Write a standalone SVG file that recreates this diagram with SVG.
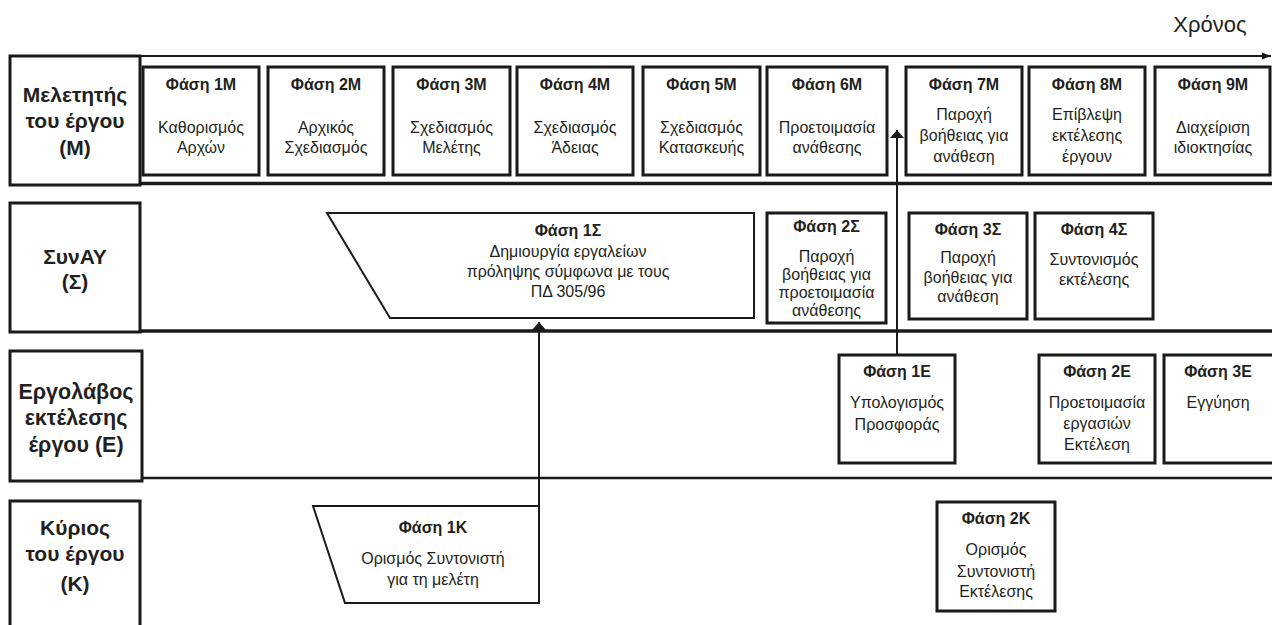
<svg xmlns="http://www.w3.org/2000/svg" width="1272" height="625" viewBox="0 0 1272 625">
<style>
.lab{fill:#fff;stroke:#1a1a1a;stroke-width:3}
.ph{fill:#fff;stroke:#1a1a1a;stroke-width:3}
.par{fill:#fff;stroke:#1a1a1a;stroke-width:2}
.rl{font-family:"Liberation Sans",Arial,sans-serif;font-weight:bold;font-size:21px;fill:#231f20;text-anchor:middle}
.rle{font-family:"Liberation Sans",Arial,sans-serif;font-weight:bold;font-size:21.5px;fill:#231f20;text-anchor:middle}
.h{font-family:"Liberation Sans",Arial,sans-serif;font-weight:bold;font-size:16px;fill:#231f20;text-anchor:middle}
.b{font-family:"Liberation Sans",Arial,sans-serif;font-size:16px;fill:#231f20;text-anchor:middle}
.t{font-family:"Liberation Sans",Arial,sans-serif;font-size:22px;fill:#231f20;text-anchor:middle}
.ln{stroke:#1a1a1a;fill:none}
</style>
<defs>
<marker id="ah" viewBox="0 0 8 16" refX="8" refY="8" markerWidth="8" markerHeight="16" markerUnits="userSpaceOnUse" orient="auto">
<path d="M0,1 L8,8 L0,15 Z" fill="#1a1a1a"/>
</marker>
<marker id="ah2" viewBox="0 0 10 10" refX="10" refY="5" markerWidth="9" markerHeight="9" markerUnits="userSpaceOnUse" orient="auto">
<path d="M0,1 L10,5 L0,9 Z" fill="#1a1a1a"/>
</marker>
</defs>

<g id="lanes">
<line class="ln" x1="140" y1="56" x2="1271" y2="56" stroke-width="2" marker-end="url(#ah2)"/>
<line class="ln" x1="140" y1="183.5" x2="1272" y2="183.5" stroke-width="3.5"/>
<line class="ln" x1="140" y1="331" x2="1272" y2="331" stroke-width="3.5"/>
<line class="ln" x1="142" y1="478" x2="1272" y2="478" stroke-width="2.5"/>
<text class="t" x="1210" y="32">Χρόνος</text>
</g>

<g id="role-M">
<rect class="lab" x="10" y="56" width="130" height="129"/>
<text class="rl" x="75" y="102">Μελετητής</text>
<text class="rl" x="75" y="128">του έργου</text>
<text class="rl" x="75" y="155">(M)</text>
</g>
<g id="role-S">
<rect class="lab" x="10" y="203" width="130" height="129"/>
<text class="rl" x="75" y="264">ΣυνAY</text>
<text class="rl" x="75" y="289">(Σ)</text>
</g>
<g id="role-E">
<rect class="lab" x="10" y="351" width="132" height="130" stroke-width="2.5"/>
<text class="rle" x="76" y="399">Εργολάβος</text>
<text class="rle" x="76" y="425">εκτέλεσης</text>
<text class="rle" x="76" y="452">έργου (Ε)</text>
</g>
<g id="role-K">
<rect class="lab" x="10" y="501" width="130" height="130"/>
<text class="rl" x="75" y="535">Κύριος</text>
<text class="rl" x="75" y="561">του έργου</text>
<text class="rl" x="75" y="591">(K)</text>
</g>

<g id="phase-1M"><rect class="ph" x="143" y="67" width="116" height="108"/>
<text class="h" x="201" y="90">Φάση 1M</text><text class="b" x="201" y="133">Καθορισμός</text><text class="b" x="201" y="153">Αρχών</text></g>
<g id="phase-2M"><rect class="ph" x="268" y="67" width="116" height="108"/>
<text class="h" x="326" y="90">Φάση 2M</text><text class="b" x="326" y="133">Αρχικός</text><text class="b" x="326" y="153">Σχεδιασμός</text></g>
<g id="phase-3M"><rect class="ph" x="393" y="67" width="117" height="108"/>
<text class="h" x="451.5" y="90">Φάση 3M</text><text class="b" x="451.5" y="133">Σχεδιασμός</text><text class="b" x="451.5" y="153">Μελέτης</text></g>
<g id="phase-4M"><rect class="ph" x="517" y="67" width="116" height="108"/>
<text class="h" x="575" y="90">Φάση 4M</text><text class="b" x="575" y="133">Σχεδιασμός</text><text class="b" x="575" y="153">Άδειας</text></g>
<g id="phase-5M"><rect class="ph" x="643" y="67" width="117" height="108"/>
<text class="h" x="701.5" y="90">Φάση 5M</text><text class="b" x="701.5" y="133">Σχεδιασμός</text><text class="b" x="701.5" y="153">Κατασκευής</text></g>
<g id="phase-6M"><rect class="ph" x="767" y="67" width="120" height="108"/>
<text class="h" x="827" y="90">Φάση 6M</text><text class="b" x="827" y="133">Προετοιμασία</text><text class="b" x="827" y="153">ανάθεσης</text></g>
<g id="phase-7M"><rect class="ph" x="906" y="67" width="116" height="108"/>
<text class="h" x="964" y="90">Φάση 7M</text><text class="b" x="964" y="120">Παροχή</text><text class="b" x="964" y="141">βοήθειας για</text><text class="b" x="964" y="162">ανάθεση</text></g>
<g id="phase-8M"><rect class="ph" x="1029" y="67" width="116" height="108"/>
<text class="h" x="1087" y="90">Φάση 8M</text><text class="b" x="1087" y="120">Επίβλεψη</text><text class="b" x="1087" y="141">εκτέλεσης</text><text class="b" x="1087" y="162">έργουν</text></g>
<g id="phase-9M"><rect class="ph" x="1155" y="67" width="115" height="108"/>
<text class="h" x="1213" y="90">Φάση 9M</text><text class="b" x="1213" y="133">Διαχείριση</text><text class="b" x="1213" y="153">ιδιοκτησίας</text></g>

<g id="phase-1S"><path class="par" d="M327,213 L754,213 L754,318 L390,318 Z"/>
<text class="h" x="568" y="236">Φάση 1Σ</text><text class="b" x="568" y="257">Δημιουργία εργαλείων</text><text class="b" x="568" y="277">πρόληψης σύμφωνα με τους</text><text class="b" x="568" y="297">ΠΔ 305/96</text></g>
<g id="phase-2S"><rect class="ph" x="767" y="213" width="119" height="110"/>
<text class="h" x="826.5" y="232">Φάση 2Σ</text><text class="b" x="826.5" y="262">Παροχή</text><text class="b" x="826.5" y="280">βοήθειας για</text><text class="b" x="826.5" y="298">προετοιμασία</text><text class="b" x="826.5" y="316">ανάθεσης</text></g>
<g id="phase-3S"><rect class="ph" x="909" y="213" width="118" height="106"/>
<text class="h" x="968" y="235">Φάση 3Σ</text><text class="b" x="968" y="263">Παροχή</text><text class="b" x="968" y="283">βοήθειας για</text><text class="b" x="968" y="302">ανάθεση</text></g>
<g id="phase-4S"><rect class="ph" x="1035" y="213" width="118" height="106"/>
<text class="h" x="1094" y="235">Φάση 4Σ</text><text class="b" x="1094" y="265">Συντονισμός</text><text class="b" x="1094" y="285">εκτέλεσης</text></g>

<g id="phase-1E"><rect class="ph" x="839" y="355" width="116" height="108"/>
<text class="h" x="897" y="377">Φάση 1E</text><text class="b" x="897" y="408">Υπολογισμός</text><text class="b" x="897" y="430">Προσφοράς</text></g>
<g id="phase-2E"><rect class="ph" x="1039" y="355" width="116" height="108"/>
<text class="h" x="1097" y="377">Φάση 2E</text><text class="b" x="1097" y="408">Προετοιμασία</text><text class="b" x="1097" y="429">εργασιών</text><text class="b" x="1097" y="450">Εκτέλεση</text></g>
<g id="phase-3E"><rect class="ph" x="1164" y="355" width="112" height="108"/>
<text class="h" x="1218" y="377">Φάση 3E</text><text class="b" x="1218" y="408">Εγγύηση</text></g>

<g id="phase-1K"><path class="par" d="M313,506 L539,506 L539,603 L345,603 Z"/>
<text class="h" x="433" y="533">Φάση 1K</text><text class="b" x="433" y="564">Ορισμός Συντονιστή</text><text class="b" x="433" y="585">για τη μελέτη</text></g>
<g id="phase-2K"><rect class="ph" x="937" y="502" width="118" height="109"/>
<text class="h" x="996" y="524">Φάση 2K</text><text class="b" x="996" y="555">Ορισμός</text><text class="b" x="996" y="577">Συντονιστή</text><text class="b" x="996" y="597">Εκτέλεσης</text></g>

<g id="connectors">
<line class="ln" x1="539" y1="506" x2="539" y2="322" stroke-width="2" marker-end="url(#ah)"/>
<line class="ln" x1="897" y1="355" x2="897" y2="130" stroke-width="2" marker-end="url(#ah)"/>
</g>
</svg>
